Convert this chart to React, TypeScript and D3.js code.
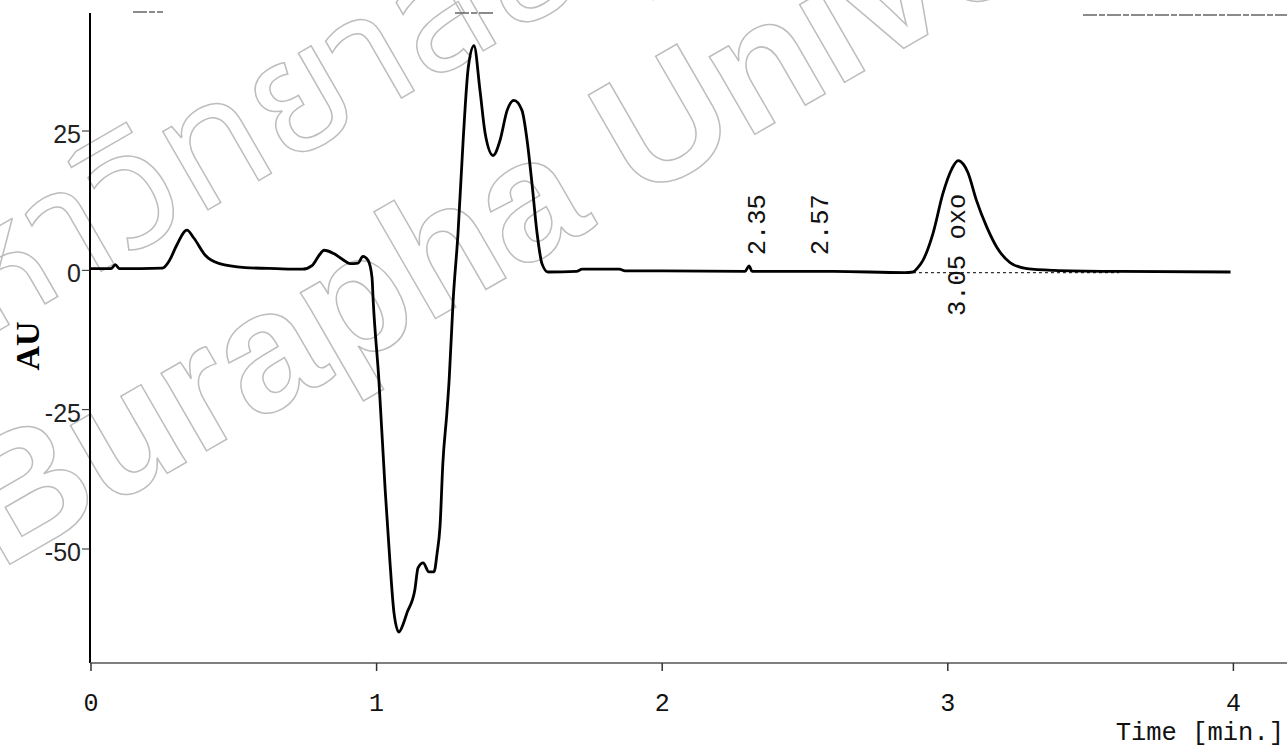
import React, { useEffect, useRef } from 'react'
import * as d3 from 'd3'

// chromatogram trace (time in min, signal in AU)
const timeMin = [
  0.0, 0.07, 0.085, 0.1, 0.25, 0.275, 0.3, 0.336, 0.36, 0.4, 0.45, 0.54, 0.65, 0.74,
  0.775, 0.8, 0.816, 0.85, 0.88, 0.907, 0.935, 0.952, 0.97, 0.984, 0.988, 1.008, 1.03,
  1.047, 1.061, 1.078, 1.095, 1.106, 1.134, 1.145, 1.163, 1.183, 1.201, 1.212, 1.222,
  1.232, 1.246, 1.254, 1.268, 1.285, 1.303, 1.321, 1.341, 1.362, 1.38, 1.408, 1.432,
  1.457, 1.481, 1.509, 1.527, 1.544, 1.562, 1.579, 1.6, 1.7, 1.72, 1.85, 1.87, 2.0,
  2.29, 2.304, 2.315, 2.6, 2.85, 2.878, 2.895, 2.913, 2.948, 2.983, 3.015, 3.036,
  3.055, 3.07, 3.1, 3.137, 3.172, 3.218, 3.277, 3.37, 3.6, 3.99,
]
const signalAU = [
  0.3, 0.3, 1.0, 0.3, 0.4, 1.8, 4.5, 7.2, 5.8, 2.7, 1.2, 0.5, 0.3, 0.2,
  0.9, 2.8, 3.6, 3.0, 2.0, 1.2, 1.3, 2.5, 1.8, -1.3, -5.4, -19.7, -39.4,
  -52.5, -61.5, -64.9, -63.2, -61.5, -57.3, -53.4, -52.5, -54.1, -54.1, -50.7, -46,
  -34.6, -25.6, -19.7, -5.4, 6.6, 23.3, 36.4, 40.3, 32.3, 24.6, 20.6, 23.3,
  28.7, 30.5, 28.7, 23.3, 15.6, 6.6, 1.2, -0.3, -0.2, 0.2, 0.2, -0.1, -0.1,
  -0.2, 0.8, -0.2, -0.2, -0.4, -0.3, 0.5, 1.8, 6.6, 13.8, 18.3, 19.7,
  19.0, 17.6, 12.6, 7.7, 4.1, 1.4, 0.3, 0.0, -0.2, -0.3,
]

const xTicks = [0, 1, 2, 3, 4]
const yTicks = [25, 0, -25, -50]

// retention time labels printed by the integrator
const peakLabels = ['2.35', '2.57', '3.05 oxo']
const peakLabelTimes = [2.35, 2.57, 3.05]
const peakLabelStart = [2.7, 2.7, -8.2]

// integration baseline under the oxo peak
const baselineTimes = [2.878, 3.6]
const baselineAU = [-0.4, -0.4]

const W = 1287
const H = 749

const App = () => {
  const chartRef = useRef<SVGSVGElement>(null)

  useEffect(() => {
    const svg = d3.select(chartRef.current)
    svg.selectAll('*').remove()

    const x = d3.scaleLinear().domain([0, 4]).range([91, 1233.4])
    const y = d3.scaleLinear().domain([-50, 25]).range([549, 131])

    // library watermark (outlined, rotated)
    const wm = svg.append('g')
      .attr('transform', 'translate(0,570) rotate(-30)')
      .attr('fill', 'none')
      .attr('stroke', '#bdbdbd')
      .attr('stroke-width', 1.5)
    wm.append('text')
      .attr('x', 0).attr('y', 0)
      .style('font-family', 'Liberation Sans, Arial, sans-serif')
      .style('font-weight', 'bold')
      .style('font-size', '170px')
      .text('Burapha University')
    wm.append('text')
      .attr('x', 0).attr('y', -208)
      .style('font-family', 'Noto Sans Thai, Noto Sans, DejaVu Sans, sans-serif')
      .style('font-size', '165px')
      .text('มหาวิทยาลัยบูรพา')

    // faint frame remains along the top
    const topBits = [[133, 163, 12], [455, 495, 13], [1083, 1287, 15]]
    svg.append('g')
      .selectAll('line')
      .data(topBits)
      .join('line')
      .attr('x1', d => d[0]).attr('x2', d => d[1])
      .attr('y1', d => d[2]).attr('y2', d => d[2])
      .attr('stroke', '#666')
      .attr('stroke-width', 1.5)
      .attr('stroke-dasharray', '14,2,6,2')

    // axes
    svg.append('line')
      .attr('x1', 90).attr('x2', 90).attr('y1', 13).attr('y2', 663)
      .attr('stroke', '#000').attr('stroke-width', 2)
    svg.append('line')
      .attr('x1', 90).attr('x2', W).attr('y1', 663).attr('y2', 663)
      .attr('stroke', '#555').attr('stroke-width', 1.6)

    const yAxis = svg.append('g')
    yAxis.selectAll('line')
      .data(yTicks)
      .join('line')
      .attr('x1', 82).attr('x2', 90)
      .attr('y1', d => y(d)).attr('y2', d => y(d))
      .attr('stroke', '#222').attr('stroke-width', 1)
    yAxis.selectAll('text')
      .data(yTicks)
      .join('text')
      .attr('x', 81)
      .attr('y', d => y(d) + 12)
      .attr('text-anchor', 'end')
      .style('font-family', 'Liberation Sans, Arial, sans-serif')
      .style('font-size', '25px')
      .attr('fill', '#222')
      .text(d => (d < 0 ? '-' + Math.abs(d) : String(d)))

    const xAxis = svg.append('g')
    xAxis.selectAll('line')
      .data(xTicks)
      .join('line')
      .attr('x1', d => x(d)).attr('x2', d => x(d))
      .attr('y1', 663).attr('y2', 671)
      .attr('stroke', '#333').attr('stroke-width', 1.5)
    xAxis.selectAll('text')
      .data(xTicks)
      .join('text')
      .attr('x', d => x(d))
      .attr('y', 711)
      .attr('text-anchor', 'middle')
      .style('font-family', 'Liberation Mono, Courier New, monospace')
      .style('font-size', '25px')
      .attr('fill', '#111')
      .text(d => String(d))

    svg.append('text')
      .attr('x', 1284).attr('y', 740)
      .attr('text-anchor', 'end')
      .style('font-family', 'Liberation Mono, Courier New, monospace')
      .style('font-size', '25.5px')
      .attr('fill', '#111')
      .text('Time [min.]')

    svg.append('text')
      .attr('transform', 'translate(39,346) rotate(-90)')
      .attr('text-anchor', 'middle')
      .style('font-family', 'Liberation Serif, Times New Roman, serif')
      .style('font-weight', 'bold')
      .style('font-size', '34px')
      .attr('fill', '#000')
      .text('AU')

    // integration baseline
    const base = d3.line<number>()
      .x((_, i) => x(baselineTimes[i]))
      .y(d => y(d))
    svg.append('path')
      .attr('d', base(baselineAU))
      .attr('fill', 'none')
      .attr('stroke', '#333')
      .attr('stroke-width', 1.3)
      .attr('stroke-dasharray', '3,3')

    // trace
    const trace = d3.line<number>()
      .x((_, i) => x(timeMin[i]))
      .y(d => y(d))
      .curve(d3.curveMonotoneX)
    svg.append('path')
      .attr('d', trace(signalAU))
      .attr('fill', 'none')
      .attr('stroke', '#000')
      .attr('stroke-width', 2.8)
      .attr('stroke-linejoin', 'round')

    // peak labels
    svg.append('g')
      .selectAll('text')
      .data(peakLabels)
      .join('text')
      .attr('transform', (d, i) => `translate(${x(peakLabelTimes[i]) + 3},${y(peakLabelStart[i])}) rotate(-90)`)
      .style('font-family', 'Liberation Mono, Courier New, monospace')
      .style('font-size', '25.5px')
      .attr('fill', '#111')
      .text(d => d)
  }, [])

  return (
    <svg
      ref={chartRef}
      width={W}
      height={H}
      style={{ position: 'absolute', left: 0, top: 0, background: '#fff' }}
    />
  )
}

export default App
